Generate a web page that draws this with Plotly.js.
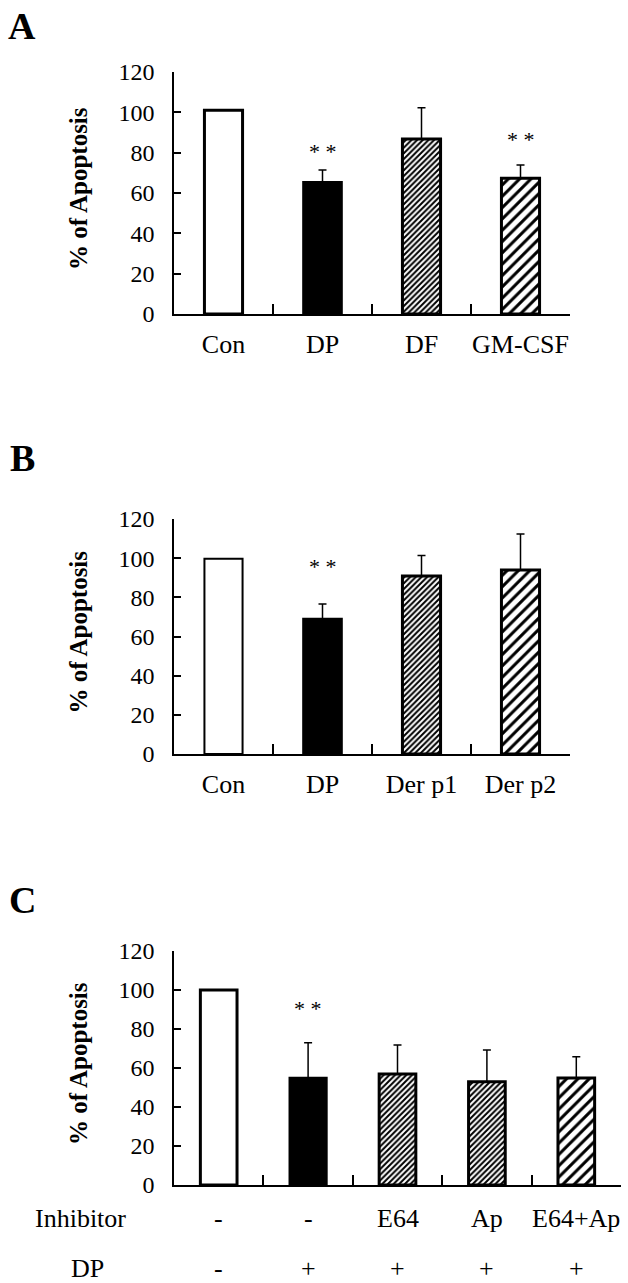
<!DOCTYPE html>
<html><head><meta charset="utf-8">
<script src="https://cdn.plot.ly/plotly-3.0.1.min.js"></script>
<style>html,body{margin:0;padding:0;background:#fff}</style>
</head><body><div id="chart" style="width:628px;height:1283px"></div>
<script>
// ---- data ----
const catsA = ['Con', 'DP', 'DF', 'GM-CSF'];
const valsA = [101, 65.3, 86.8, 67.3];
const errA  = [0, 6.1, 15.5, 6.6];
const sigA  = ['', '* *', '', '* *'];

const catsB = ['Con', 'DP', 'Der p1', 'Der p2'];
const valsB = [99.7, 68.9, 90.9, 94.0];
const errB  = [0, 7.7, 10.4, 18.4];
const sigB  = ['', '* *', '', ''];

const inhibitorC = ['-', '-', 'E64', 'Ap', 'E64+Ap'];
const dpC        = ['-', '+', '+', '+', '+'];
const valsC = [100, 54.9, 56.9, 53.0, 54.9];
const errC  = [0, 18.1, 14.9, 16.2, 10.9];
const sigC  = ['', '* *', '', '', ''];

const yTicks = [0, 20, 40, 60, 80, 100, 120];
const yTitle = '% of Apoptosis';
const panelLetters = ['A', 'B', 'C'];

// ---- styles ----
const FONT = "'Liberation Serif', 'Times New Roman', Times, serif";
const W = 628, H = 1283;
const styleA = ['open', 'solid', 'dense', 'sparse'];
const styleB = ['open', 'solid', 'dense', 'sparse'];
const styleC = ['open', 'solid', 'dense', 'dense', 'sparse'];
const borderA = [3, 2.5, 3, 3];
const borderB = [2, 2.5, 3, 3];
const borderC = [3, 2.5, 3, 3, 3];

function barTraces(x, y, err, styles, borders, xa, ya, width) {
  return x.map((xi, i) => {
    const s = styles[i];
    const marker = {color: s === 'solid' ? '#000' : '#fff', line: {color: '#000', width: borders[i]}};
    if (s === 'dense') marker.pattern = {shape: '/', size: 4, solidity: 0.5, fgcolor: '#000', bgcolor: '#fff'};
    if (s === 'sparse') marker.pattern = {shape: '/', size: 8, solidity: 0.38, fgcolor: '#000', bgcolor: '#fff'};
    return {
      type: 'bar', x: [xi], y: [y[i]], xaxis: xa, yaxis: ya, width: width,
      marker: marker,
      error_y: err[i] > 0 ? {type: 'data', symmetric: false, array: [err[i]], arrayminus: [0],
                color: '#000', thickness: 1.5, width: 4} : {visible: false},
      hoverinfo: 'none', showlegend: false
    };
  });
}

function yAxis(domain, anchor) {
  return {domain: domain, anchor: anchor, range: [0, 120], tickmode: 'array', tickvals: yTicks,
    ticks: 'inside', ticklen: 7, tickwidth: 1.5, tickcolor: '#000',
    showline: true, linecolor: '#000', linewidth: 1.5, showgrid: false, zeroline: false,
    tickfont: {family: FONT, size: 24, color: '#000'}, ticklabelstandoff: 13, fixedrange: true};
}
function xCatAxis(domain, anchor, cats) {
  return {domain: domain, anchor: anchor, type: 'category', categoryorder: 'array', categoryarray: cats,
    range: [-0.5, cats.length - 0.5], tickangle: 0,
    tickson: 'boundaries', ticks: 'inside', ticklen: 10, tickwidth: 1.5, tickcolor: '#000',
    showline: true, linecolor: '#000', linewidth: 1.5, showgrid: false, zeroline: false,
    tickfont: {family: FONT, size: 26, color: '#000'}, ticklabelstandoff: 6, fixedrange: true};
}

const px = v => v / W;
const py = v => 1 - v / H;

const xIdxC = inhibitorC.map((_, i) => i);

const data = [].concat(
  barTraces(catsA, valsA, errA, styleA, borderA, 'x', 'y', 0.385),
  barTraces(catsB, valsB, errB, styleB, borderB, 'x2', 'y2', 0.385),
  barTraces(xIdxC, valsC, errC, styleC, borderC, 'x3', 'y3', 0.41)
);

const annotations = [];
[26, 458, 900].forEach((yy, i) => {
  annotations.push({xref: 'paper', yref: 'paper', x: px(22), y: py(yy), xanchor: 'center', yanchor: 'middle',
    text: '<b>' + panelLetters[i] + '</b>', showarrow: false, font: {family: FONT, size: 38, color: '#000'}});
});
['y', 'y2', 'y3'].forEach(ya => {
  annotations.push({xref: 'paper', yref: ya + ' domain', x: px(78), y: 0.5, yshift: 4, xanchor: 'center', yanchor: 'middle',
    textangle: -90, text: '<b>' + yTitle + '</b>', showarrow: false, font: {family: FONT, size: 25, color: '#000'}});
});
function stars(cats, vals, errs, sig, xa, ya, shifts) {
  sig.forEach((s, i) => {
    if (!s) return;
    annotations.push({xref: xa, yref: ya, x: cats[i], y: vals[i] + errs[i], yshift: shifts[i],
      xanchor: 'center', yanchor: 'middle', text: s, showarrow: false,
      font: {family: FONT, size: 22, color: '#000'}});
  });
}
stars(catsA, valsA, errA, sigA, 'x', 'y', [0, 19, 0, 25]);
stars(catsB, valsB, errB, sigB, 'x2', 'y2', [0, 37, 0, 0]);
stars(xIdxC, valsC, errC, sigC, 'x3', 'y3', [0, 34, 0, 0, 0]);
inhibitorC.forEach((t, i) => {
  annotations.push({xref: 'x3', yref: 'y3', x: i, y: 0, yshift: -33, xanchor: 'center', yanchor: 'middle',
    text: t, showarrow: false, font: {family: FONT, size: 26, color: '#000'}});
});
dpC.forEach((t, i) => {
  annotations.push({xref: 'x3', yref: 'y3', x: i, y: 0, yshift: -83, xanchor: 'center', yanchor: 'middle',
    text: t, showarrow: false, font: {family: FONT, size: 26, color: '#000'}});
});
annotations.push({xref: 'paper', yref: 'paper', x: px(80), y: py(1218), xanchor: 'center', yanchor: 'middle',
  text: 'Inhibitor', showarrow: false, font: {family: FONT, size: 26, color: '#000'}});
annotations.push({xref: 'paper', yref: 'paper', x: px(87), y: py(1268), xanchor: 'center', yanchor: 'middle',
  text: 'DP', showarrow: false, font: {family: FONT, size: 26, color: '#000'}});

const layout = {
  width: W, height: H, margin: {l: 0, r: 0, t: 0, b: 0},
  paper_bgcolor: '#fff', plot_bgcolor: '#fff',
  font: {family: FONT, color: '#000'},
  barmode: 'overlay',
  xaxis: xCatAxis([px(174), px(570)], 'y', catsA),
  yaxis: yAxis([py(314), py(72)], 'x'),
  xaxis2: xCatAxis([px(174), px(570)], 'y2', catsB),
  yaxis2: yAxis([py(754), py(519)], 'x2'),
  xaxis3: {domain: [px(174), px(621)], anchor: 'y3', type: 'linear', range: [-0.5, inhibitorC.length - 0.5],
    tickmode: 'array', tickvals: xIdxC.map(i => i + 0.5), showticklabels: false,
    ticks: 'inside', ticklen: 10, tickwidth: 1.5, tickcolor: '#000',
    showline: true, linecolor: '#000', linewidth: 1.5, showgrid: false, zeroline: false, fixedrange: true},
  yaxis3: yAxis([py(1185), py(951)], 'x3'),
  annotations: annotations
};

Plotly.newPlot('chart', data, layout, {displayModeBar: false});
</script></body></html>
